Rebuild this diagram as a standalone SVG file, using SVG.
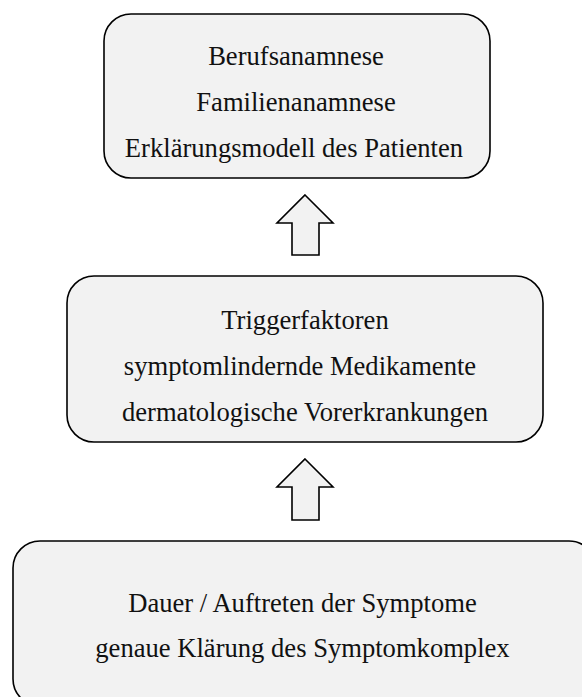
<svg xmlns="http://www.w3.org/2000/svg" width="582" height="697" viewBox="0 0 582 697">
<style>
.box{fill:#f2f2f2;stroke:#000;stroke-width:1.6}
.arr{fill:#f2f2f2;stroke:#000;stroke-width:1.6;stroke-linejoin:miter}
text{font-family:"Liberation Serif","Times New Roman",serif;font-size:26.6px;fill:#111;text-anchor:middle}
</style>
<rect width="582" height="697" fill="#fff"/>
<g id="connectors">
<path class="arr" d="M305,195 L333,223 L319,223 L319,255 L292,255 L292,223 L277,223 Z"/>
<path class="arr" d="M305,459 L333,487 L319,487 L319,520 L292,520 L292,487 L277,487 Z"/>
</g>
<g id="node-top">
<rect class="box" x="104" y="14" width="386" height="164" rx="27" ry="27"/>
<text x="296" y="65">Berufsanamnese</text>
<text x="296" y="111">Familienanamnese</text>
<text x="294" y="157">Erklärungsmodell des Patienten</text>
</g>
<g id="node-middle">
<rect class="box" x="67" y="276" width="476" height="166" rx="27" ry="27"/>
<text x="305" y="329">Triggerfaktoren</text>
<text x="300" y="375">symptomlindernde Medikamente</text>
<text x="305" y="421">dermatologische Vorerkrankungen</text>
</g>
<g id="node-bottom">
<rect class="box" x="13" y="541" width="583" height="165" rx="27" ry="27"/>
<text x="302.5" y="612">Dauer / Auftreten der Symptome</text>
<text x="302.5" y="657">genaue Klärung des Symptomkomplex</text>
</g>
</svg>
